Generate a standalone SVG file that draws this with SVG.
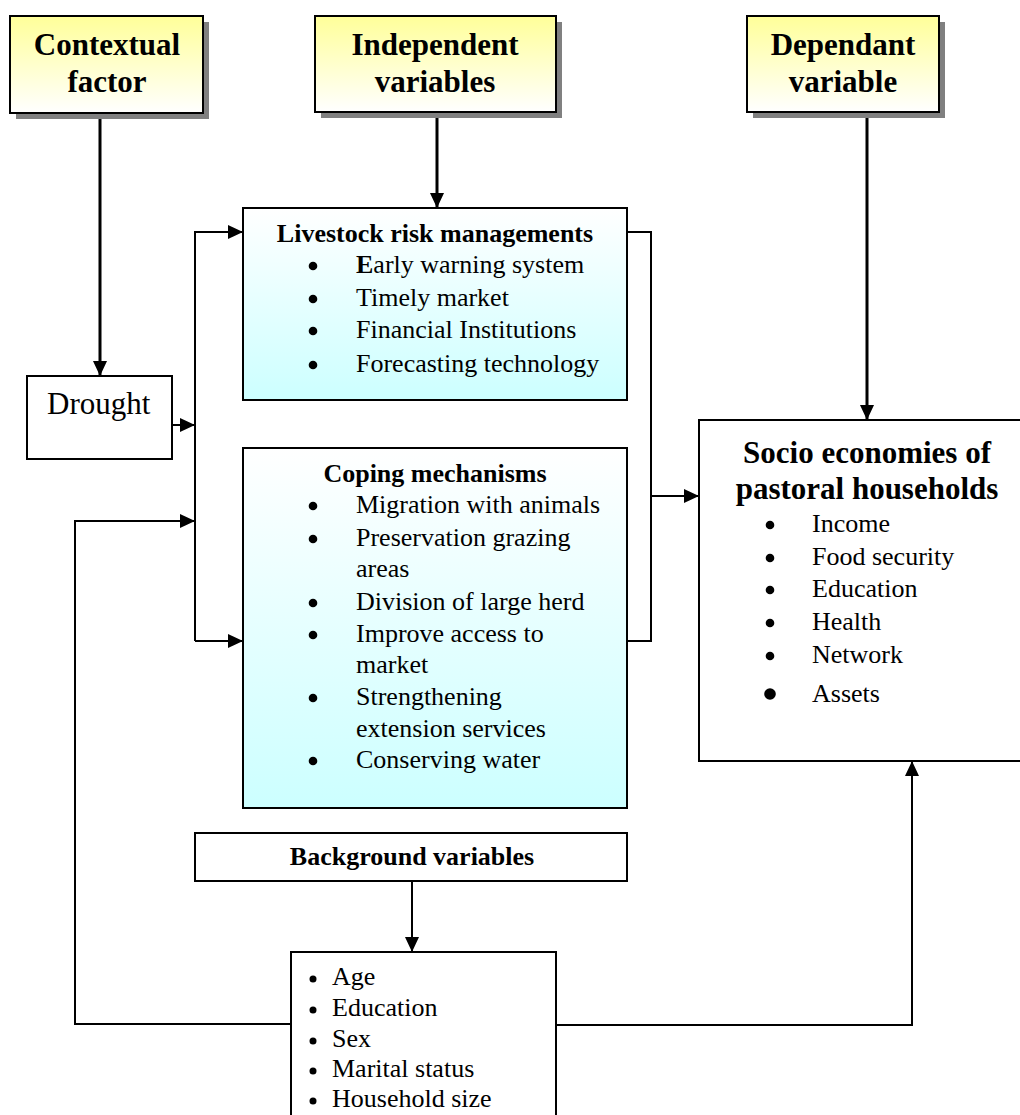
<svg xmlns="http://www.w3.org/2000/svg" width="1020" height="1115" viewBox="0 0 1020 1115">
<defs>
<linearGradient id="gy" x1="0" y1="0" x2="0" y2="1">
<stop offset="0" stop-color="#ffff99"/><stop offset="1" stop-color="#ffffff"/>
</linearGradient>
<linearGradient id="gc" x1="0" y1="0" x2="0" y2="1">
<stop offset="0" stop-color="#ffffff"/><stop offset="1" stop-color="#ccffff"/>
</linearGradient>
<marker id="ah" markerUnits="userSpaceOnUse" markerWidth="15" markerHeight="14" refX="15" refY="7" orient="auto">
<path d="M0,0 L15,7 L0,14 z" fill="#000"/>
</marker>
</defs>
<style>
.box{stroke:#000;stroke-width:2;}
.hdr{fill:url(#gy);}
.blue{fill:url(#gc);}
.wht{fill:#fff;}
.shadow{fill:#808080;}
text{font-family:"Liberation Serif","Times New Roman",serif;fill:#000;}
.ht{font-size:31px;font-weight:bold;text-anchor:middle;}
.bt{font-size:26px;font-weight:bold;text-anchor:middle;}
.it{font-size:26px;}
.ln{fill:none;stroke:#000;stroke-width:2;}
.thick{stroke-width:3;}
</style>
<g id="connectors">
<path class="ln thick" d="M100,113 V376" marker-end="url(#ah)"/>
<path class="ln thick" d="M437,112 V208" marker-end="url(#ah)"/>
<path class="ln thick" d="M867,112 V420" marker-end="url(#ah)"/>
<path class="ln" d="M412,881 V952" marker-end="url(#ah)"/>
<path class="ln" d="M172,425 H195" marker-end="url(#ah)"/>
<path class="ln" d="M195,641 V232 H243" marker-end="url(#ah)"/>
<path class="ln" d="M195,641 H243" marker-end="url(#ah)"/>
<path class="ln" d="M627,232 H651 V641 H627"/>
<path class="ln" d="M651,496 H699" marker-end="url(#ah)"/>
<path class="ln" d="M291,1024 H75 V521 H195" marker-end="url(#ah)"/>
<path class="ln" d="M556,1025 H912 V761" marker-end="url(#ah)"/>
</g>
<g id="contextual">
<rect class="shadow" x="16" y="22" width="193" height="97"/>
<rect class="box hdr" x="10" y="16" width="193" height="97"/>
<text class="ht" x="107" y="55">Contextual</text>
<text class="ht" x="107" y="92">factor</text>
</g>
<g id="independent">
<rect class="shadow" x="321" y="22" width="241" height="96"/>
<rect class="box hdr" x="315" y="16" width="241" height="96"/>
<text class="ht" x="435" y="55">Independent</text>
<text class="ht" x="435" y="92">variables</text>
</g>
<g id="dependent">
<rect class="shadow" x="753" y="22" width="192" height="96"/>
<rect class="box hdr" x="747" y="16" width="192" height="96"/>
<text class="ht" x="843" y="55">Dependant</text>
<text class="ht" x="843" y="92">variable</text>
</g>
<g id="drought">
<rect class="box wht" x="27" y="376" width="145" height="83"/>
<text x="47" y="414" style="font-size:31px">Drought</text>
</g>
<g id="livestock">
<rect class="box blue" x="243" y="208" width="384" height="192"/>
<text class="bt" x="435" y="242">Livestock risk managements</text>
<circle cx="313" cy="266" r="4.3"/><text class="it" x="356" y="273"><tspan font-weight="bold">E</tspan>arly warning system</text>
<circle cx="313" cy="299" r="4.3"/><text class="it" x="356" y="306">Timely market</text>
<circle cx="313" cy="331" r="4.3"/><text class="it" x="356" y="338">Financial Institutions</text>
<circle cx="313" cy="365" r="4.3"/><text class="it" x="356" y="372">Forecasting technology</text>
</g>
<g id="coping">
<rect class="box blue" x="243" y="448" width="384" height="360"/>
<text class="bt" x="435" y="482">Coping mechanisms</text>
<circle cx="313" cy="506" r="4.3"/><text class="it" x="356" y="513">Migration with animals</text>
<circle cx="313" cy="539" r="4.3"/><text class="it" x="356" y="546">Preservation grazing</text>
<text class="it" x="356" y="577">areas</text>
<circle cx="313" cy="603" r="4.3"/><text class="it" x="356" y="610">Division of large herd</text>
<circle cx="313" cy="635" r="4.3"/><text class="it" x="356" y="642">Improve access to</text>
<text class="it" x="356" y="673">market</text>
<circle cx="313" cy="698" r="4.3"/><text class="it" x="356" y="705">Strengthening</text>
<text class="it" x="356" y="737">extension services</text>
<circle cx="313" cy="761" r="4.3"/><text class="it" x="356" y="768">Conserving water</text>
</g>
<g id="socio">
<rect class="box wht" x="699" y="420" width="330" height="341"/>
<text class="ht" x="867" y="463">Socio economies of</text>
<text class="ht" x="867" y="499">pastoral households</text>
<circle cx="770" cy="525" r="4.3"/><text class="it" x="812" y="532">Income</text>
<circle cx="770" cy="558" r="4.3"/><text class="it" x="812" y="565">Food security</text>
<circle cx="770" cy="590" r="4.3"/><text class="it" x="812" y="597">Education</text>
<circle cx="770" cy="623" r="4.3"/><text class="it" x="812" y="630">Health</text>
<circle cx="770" cy="656" r="4.3"/><text class="it" x="812" y="663">Network</text>
<circle cx="770" cy="694" r="5.8"/><text class="it" x="812" y="702">Assets</text>
</g>
<g id="background">
<rect class="box wht" x="195" y="833" width="432" height="48"/>
<text class="bt" x="412" y="865">Background variables</text>
</g>
<g id="background-items">
<rect class="box wht" x="291" y="952" width="265" height="200"/>
<circle cx="313" cy="979" r="3.5"/><text class="it" x="332" y="985">Age</text>
<circle cx="313" cy="1010" r="3.5"/><text class="it" x="332" y="1016">Education</text>
<circle cx="313" cy="1041" r="3.5"/><text class="it" x="332" y="1047">Sex</text>
<circle cx="313" cy="1071" r="3.5"/><text class="it" x="332" y="1077">Marital status</text>
<circle cx="313" cy="1101" r="3.5"/><text class="it" x="332" y="1107">Household size</text>
</g>
</svg>
